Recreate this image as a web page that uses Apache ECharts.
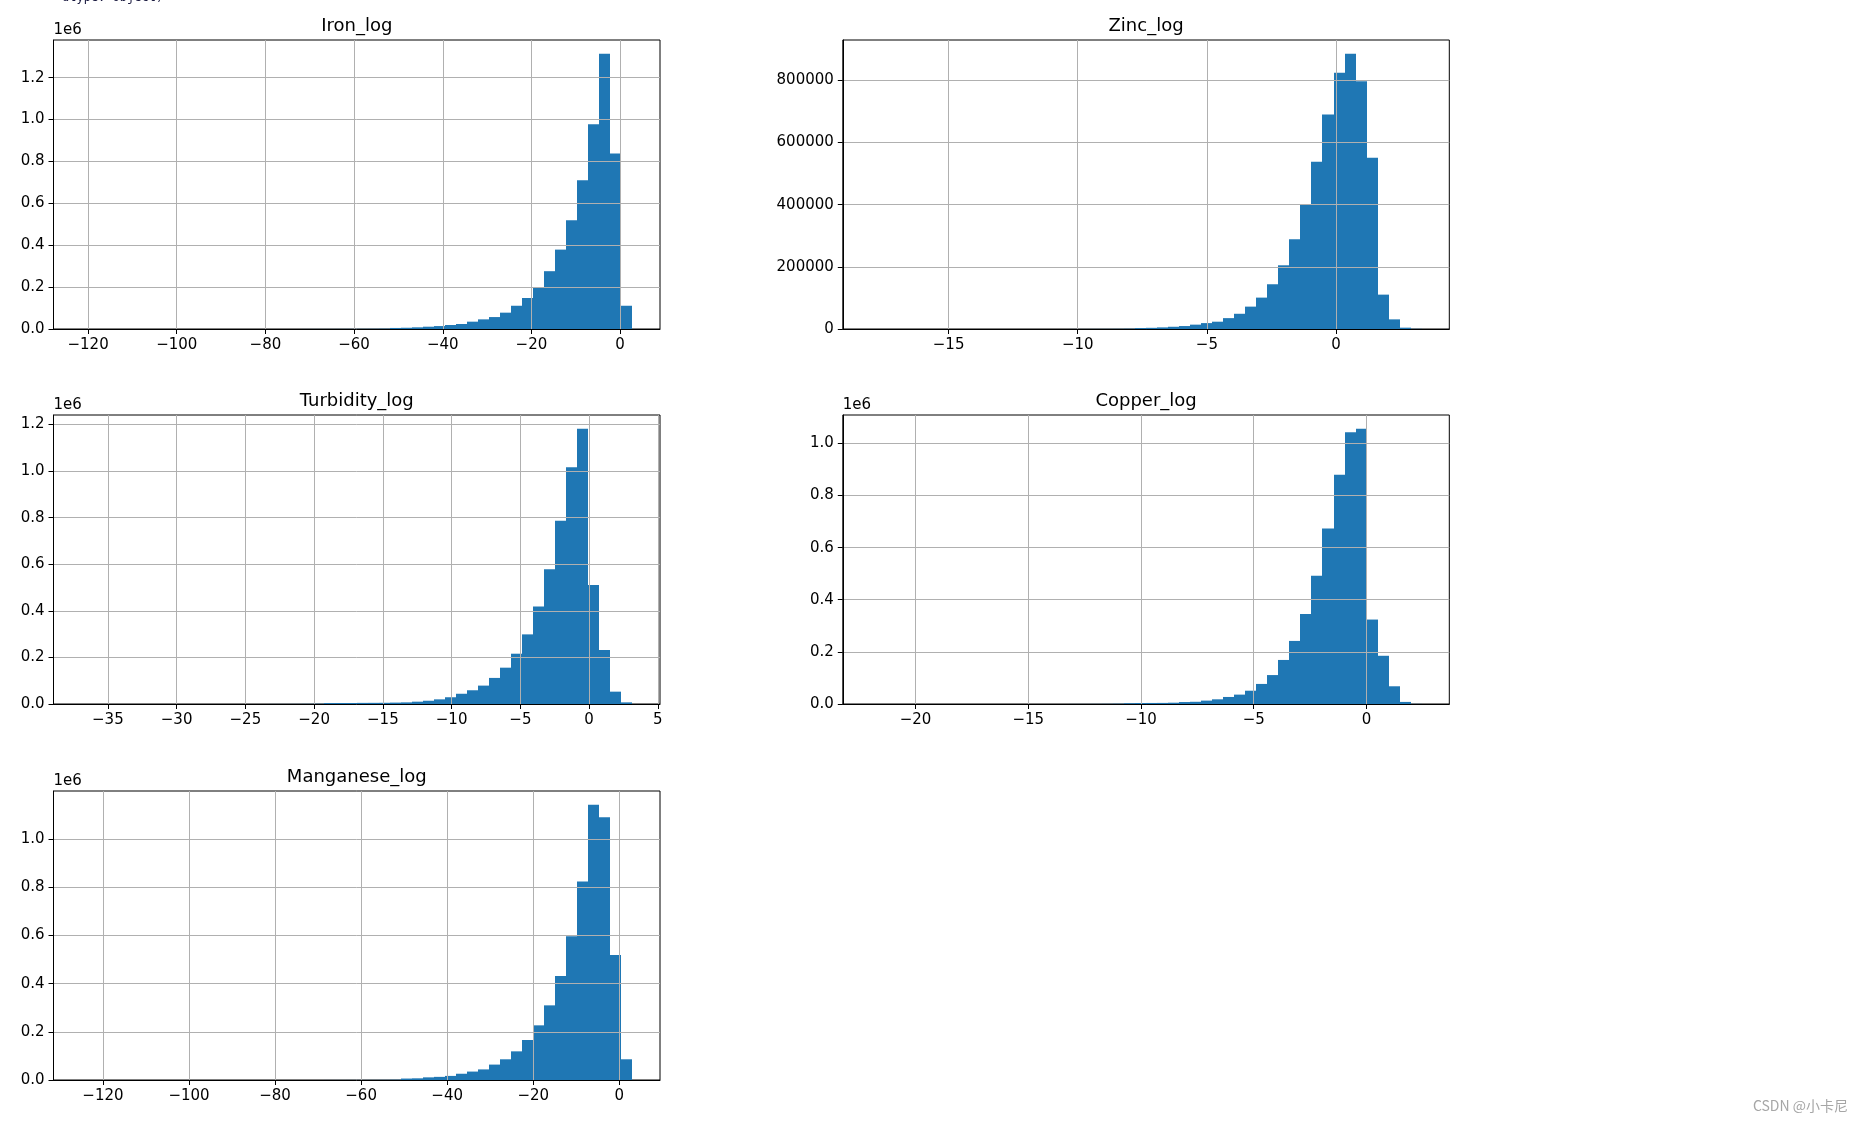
<!DOCTYPE html>
<html><head><meta charset="utf-8">
<script src="https://cdn.jsdelivr.net/npm/echarts@6/dist/echarts.min.js"></script>
<style>html,body{margin:0;padding:0;background:#fff;overflow:hidden}#c{width:1864px;height:1121px}</style>
</head><body><div id="c"></div>
<script>
// ---- data (histograms, 50 bins each; range = [data min, data max]) ----
const titles = ['Iron_log', 'Zinc_log', 'Turbidity_log', 'Copper_log', 'Manganese_log'];

const ironRange = [-121.58, 2.78];
const ironCounts = [0,0,1,0,2,1,3,2,4,6,9,12,16,22,30,41,55,74,98,130,175,230,310,410,540,720,950,1500,
  5000,6000,8000,11000,14000,19000,24000,35000,46000,57000,78000,111000,148000,200000,276000,379000,519000,710000,978000,1314000,838000,111000];
const ironXTicks = [-120,-100,-80,-60,-40,-20,0];
const ironYTicks = [0,200000,400000,600000,800000,1000000,1200000];

const zincRange = [-18.03, 3.32];
const zincCounts = [1,0,0,2,1,3,2,4,6,5,9,12,17,21,30,44,60,85,120,170,240,340,480,900,
  3000,3800,5200,7200,9500,14000,19000,23500,35000,49000,72000,101000,144000,205000,289000,401500,538000,690000,824500,885700,797600,550700,110600,31000,4300,500];
const zincXTicks = [-15,-10,-5,0];
const zincYTicks = [0,200000,400000,600000,800000];

const turbidityRange = [-36.95, 3.15];
const turbidityCounts = [1,0,1,0,2,3,2,5,7,9,14,20,28,40,60,90,130,190,280,420,650,1100,
  4000,4200,4300,4800,5000,5200,6000,7000,10000,14000,20000,29000,44000,59000,79000,112000,156000,216000,299000,419000,579000,787000,1017000,1182000,511000,232000,53000,7000];
const turbidityXTicks = [-35,-30,-25,-20,-15,-10,-5,0,5];
const turbidityYTicks = [0,200000,400000,600000,800000,1000000,1200000];

const copperRange = [-22.0, 2.45];
const copperCounts = [1,0,0,1,2,1,3,4,6,8,11,15,22,30,42,60,85,120,170,250,380,600,1100,
  3000,3800,4000,4200,5000,7500,8500,13000,18000,27000,36000,51000,77000,111000,169000,242000,345000,492000,673000,880000,1043000,1056000,324000,185000,68000,8000,400];
const copperXTicks = [-20,-15,-10,-5,0];
const copperYTicks = [0,200000,400000,600000,800000,1000000];

const manganeseRange = [-125.08, 3.06];
const manganeseCounts = [1,0,1,0,0,2,1,3,2,4,5,7,9,12,16,21,28,38,50,66,88,115,150,200,260,340,450,600,1200,
  6000,7000,11000,13000,17000,26000,35000,44000,64000,86000,119000,166000,227000,310000,432000,597000,824000,1143000,1091000,519000,86000];
const manganeseXTicks = [-120,-100,-80,-60,-40,-20,0];
const manganeseYTicks = [0,200000,400000,600000,800000,1000000];

// ---- layout ----
const W = 606.5, H = 289;
const colL = [53.5, 842.8];
const rowT = [40, 415, 791];
const panels = [
  {title: titles[0], range: ironRange, counts: ironCounts, xt: ironXTicks, yt: ironYTicks, sci: true, left: colL[0], top: rowT[0]},
  {title: titles[1], range: zincRange, counts: zincCounts, xt: zincXTicks, yt: zincYTicks, sci: false, left: colL[1], top: rowT[0]},
  {title: titles[2], range: turbidityRange, counts: turbidityCounts, xt: turbidityXTicks, yt: turbidityYTicks, sci: true, left: colL[0], top: rowT[1]},
  {title: titles[3], range: copperRange, counts: copperCounts, xt: copperXTicks, yt: copperYTicks, sci: true, left: colL[1], top: rowT[1]},
  {title: titles[4], range: manganeseRange, counts: manganeseCounts, xt: manganeseXTicks, yt: manganeseYTicks, sci: true, left: colL[0], top: rowT[2]}
];

const FONT = 'DejaVu Sans';
const BLUE = '#1f77b4';
const GRIDC = '#b0b0b0';
const minus = s => String(s).replace('-', '\u2212');

const grids = [], xAxes = [], yAxes = [], series = [], graphics = [];
panels.forEach((p, k) => {
  const n = p.counts.length;
  const a = p.range[0], b = p.range[1];
  const w = (b - a) / n;
  const span = b - a;
  const ymax = 1.05 * Math.max.apply(null, p.counts);
  grids.push({left: p.left, top: p.top, width: W, height: H, show: true, borderColor: '#000', borderWidth: 1, backgroundColor: 'transparent', containLabel: false});
  xAxes.push({
    type: 'value', gridIndex: k, min: a - 0.05 * span, max: b + 0.05 * span, z: 5,
    axisLine: {show: true, onZero: false, lineStyle: {color: '#000', width: 1}},
    axisTick: {show: true, inside: false, length: 5, customValues: p.xt, lineStyle: {color: '#000', width: 1}},
    axisLabel: {show: true, customValues: p.xt, margin: 9, fontFamily: FONT, fontSize: 15, color: '#000', formatter: v => minus(v)},
    splitLine: {show: true, lineStyle: {color: GRIDC, width: 1}}
  });
  yAxes.push({
    type: 'value', gridIndex: k, min: 0, max: ymax, z: 5,
    axisLine: {show: true, onZero: false, lineStyle: {color: '#000', width: 1}},
    axisTick: {show: true, inside: false, length: 5, customValues: p.yt, lineStyle: {color: '#000', width: 1}},
    axisLabel: {show: true, customValues: p.yt, margin: 9, fontFamily: FONT, fontSize: 15, color: '#000',
      formatter: v => p.sci ? (v / 1e6).toFixed(1) : String(Math.round(v))},
    splitLine: {show: true, lineStyle: {color: GRIDC, width: 1}}
  });
  const data = p.counts.map((c, i) => [a + i * w, a + (i + 1) * w, c]);
  series.push({
    type: 'custom', xAxisIndex: k, yAxisIndex: k, z: 2, silent: true,
    encode: {x: [0, 1], y: 2},
    data: data,
    renderItem: function (params, api) {
      const p0 = api.coord([api.value(0), api.value(2)]);
      const p1 = api.coord([api.value(1), 0]);
      const x0 = Math.round(p0[0]), x1 = Math.round(p1[0]);
      return {type: 'rect', shape: {x: x0, y: p0[1], width: x1 - x0, height: p1[1] - p0[1]},
        style: {fill: BLUE}};
    }
  });
  graphics.push({type: 'text', x: p.left + W / 2, y: p.top - 14, z: 10,
    style: {text: p.title, font: '18px "' + FONT + '"', fill: '#000', align: 'center', verticalAlign: 'middle'}});
  if (p.sci) {
    graphics.push({type: 'text', x: p.left, y: p.top - 10, z: 10,
      style: {text: '1e6', font: '15px "' + FONT + '"', fill: '#000', align: 'left', verticalAlign: 'middle'}});
  }
});
graphics.push({type: 'text', x: 62, y: 4, z: 10,
  style: {text: 'dtype: object)', font: '12px "DejaVu Sans Mono"', fill: '#1a1a40', align: 'left', verticalAlign: 'bottom'}});
graphics.push({type: 'text', x: 1848, y: 1106, z: 10,
  style: {text: 'CSDN @小卡尼', font: '14px "Noto Sans CJK SC"', fill: '#a6a6a6', align: 'right', verticalAlign: 'middle'}});

const chart = echarts.init(document.getElementById('c'), null, {renderer: 'canvas'});
chart.setOption({
  animation: false,
  backgroundColor: '#fff',
  grid: grids, xAxis: xAxes, yAxis: yAxes, series: series, graphic: graphics
});
</script></body></html>
